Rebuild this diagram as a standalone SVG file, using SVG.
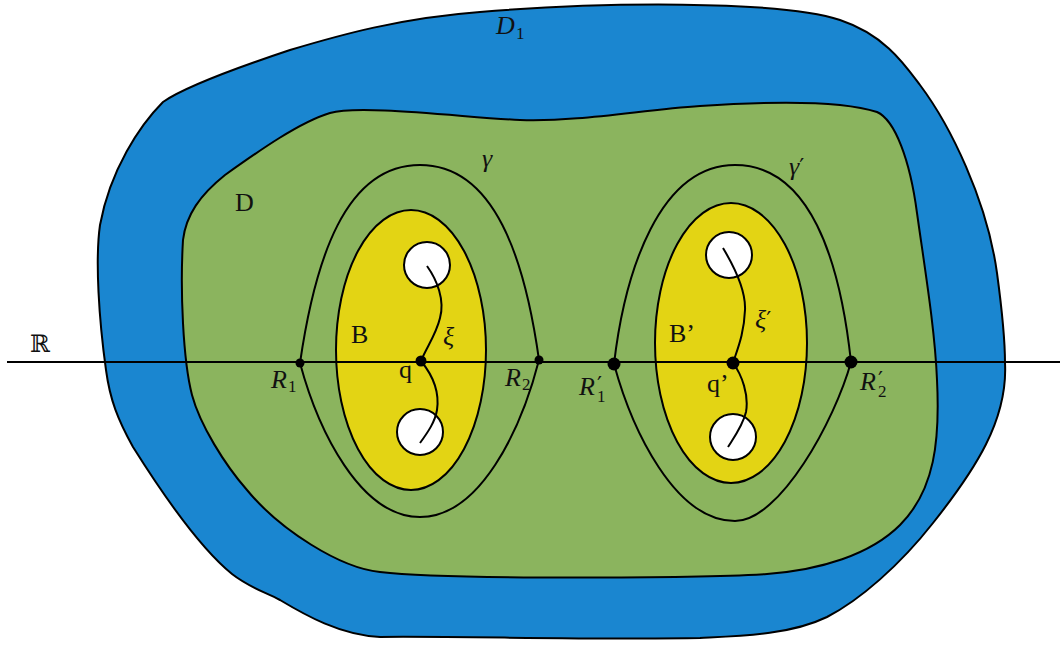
<svg xmlns="http://www.w3.org/2000/svg" width="1060" height="645" viewBox="0 0 1060 645">
<defs>
<style>
.edge{stroke:#000;stroke-width:2;stroke-linejoin:round;fill:none}
.blue{fill:#1a86d0;stroke:#000;stroke-width:2}
.green{fill:#8bb45e;stroke:#000;stroke-width:2}
.yellow{fill:#e3d414;stroke:#000;stroke-width:2}
.hole{fill:#fff;stroke:#000;stroke-width:2}
.dot{fill:#000}
.t{font-family:"Liberation Serif","DejaVu Serif",serif;font-size:26px;fill:#111}
.m{font-family:"Liberation Serif","DejaVu Serif",serif;font-size:26px;font-style:italic;fill:#111}
.s{font-size:17px;font-style:normal}
.p{font-family:"DejaVu Sans",sans-serif;font-size:22px;font-style:normal}
</style>
</defs>
<rect width="1060" height="645" fill="#fff"/>
<g id="D1">
<path class="blue" d="M163,102 C180,90 230,70 290,50 C340,35 400,18 480,12 C600,2 780,0 840,20 C885,35 905,65 920,85 C950,125 987,200 997,273 C1002,310 1005,340 1005,363 C1008,420 975,470 933,523 C900,565 860,600 827,617 C790,635 740,636 700,638 C600,640 450,636 380,637 C340,635 305,615 280,600 C265,592 250,588 232,574 C200,548 160,490 133,447 C118,420 110,400 106,370 C99,320 95,260 100,225 C110,170 140,125 163,102 Z"/>
<text class="m" x="496" y="34">D<tspan class="s" x="516" y="39">1</tspan></text>
</g>
<g id="D">
<path class="green" d="M330,113 C360,104 470,118 520,120 C580,122 640,110 700,106 C760,102 840,100 877,112 C895,120 910,160 917,213 C925,270 935,330 937,380 C940,440 935,490 900,525 C870,555 820,570 767,574 C700,578 450,580 380,572 C340,568 280,530 247,490 C225,465 200,425 192,395 C183,360 180,290 183,240 C186,215 200,195 225,175 C260,150 300,122 330,113 Z"/>
<text class="t" x="235" y="211">D</text>
</g>
<g id="gamma">
<path class="edge" d="M300,363 C315,260 345,165 420,165 C495,165 525,260 539,360 C521,430 480,517 420,517 C360,517 318,430 300,363 Z"/>
<text class="m" x="482" y="167">γ</text>
</g>
<g id="gamma-prime">
<path class="edge" d="M614,364 C625,270 660,165 735,165 C810,165 840,260 851,362 C835,420 780,521 735,521 C675,521 632,430 614,364 Z"/>
<text class="m" x="789" y="175">γ<tspan class="p" dy="-1">′</tspan></text>
</g>
<g id="B">
<ellipse class="yellow" cx="411" cy="350" rx="75" ry="140"/>
<circle class="hole" cx="427" cy="265" r="23"/>
<circle class="hole" cx="420" cy="432" r="23"/>
<text class="t" x="351" y="343">B</text>
</g>
<g id="B-prime">
<ellipse class="yellow" cx="731" cy="343" rx="76" ry="140"/>
<circle class="hole" cx="729" cy="255" r="23"/>
<circle class="hole" cx="733" cy="437" r="23"/>
<text class="t" x="669" y="342">B’</text>
</g>
<g id="connectors">
<line class="edge" x1="7" y1="362" x2="1060" y2="362"/>
<path class="edge" d="M427,266 C437,280 445,300 440,318 C436,335 426,348 421,361 C430,372 440,390 437,410 C435,422 428,432 420,443"/>
<path class="edge" d="M723,248 C735,268 746,290 745,310 C744,335 737,350 733,363 C742,375 749,395 746,412 C743,425 735,436 728,447"/>
</g>
<g id="R">
<text x="30" y="352" style="font-family:'DejaVu Serif',serif;font-size:24px;fill:#111">ℝ</text>
</g>
<g id="xi">
<text class="m" x="443" y="345">ξ</text>
</g>
<g id="xi-prime">
<text class="m" x="755" y="328">ξ<tspan class="p" dy="-1">′</tspan></text>
</g>
<g id="q">
<circle class="dot" cx="421" cy="361" r="5.5"/>
<text class="t" x="399" y="378">q</text>
</g>
<g id="q-prime">
<circle class="dot" cx="733" cy="363" r="6.5"/>
<text class="t" x="707" y="392">q’</text>
</g>
<g id="R1">
<circle class="dot" cx="300" cy="363" r="4.5"/>
<text class="m" x="271" y="388">R<tspan class="s" x="288" y="392">1</tspan></text>
</g>
<g id="R2">
<circle class="dot" cx="539" cy="360" r="4.5"/>
<text class="m" x="505" y="386">R<tspan class="s" x="522" y="390">2</tspan></text>
</g>
<g id="R1-prime">
<circle class="dot" cx="614" cy="364" r="6.5"/>
<text class="m" x="579" y="395">R<tspan class="p" x="597" y="392">′</tspan><tspan class="s" x="597" y="402">1</tspan></text>
</g>
<g id="R2-prime">
<circle class="dot" cx="851" cy="362" r="6.5"/>
<text class="m" x="860" y="390">R<tspan class="p" x="878" y="387">′</tspan><tspan class="s" x="878" y="397">2</tspan></text>
</g>
</svg>
